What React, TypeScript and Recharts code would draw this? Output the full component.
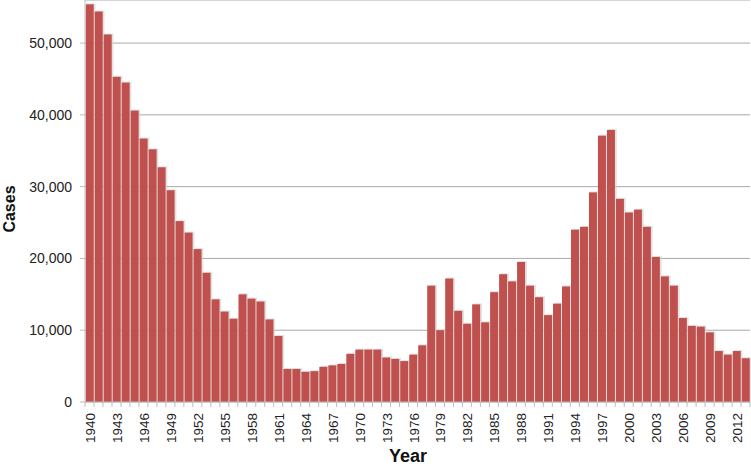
import { BarChart, Bar, XAxis, YAxis, CartesianGrid } from 'recharts';

// Annual reported cases, 1940-2013
const years = [
  '1940', '1941', '1942', '1943', '1944', '1945', '1946', '1947', '1948', '1949',
  '1950', '1951', '1952', '1953', '1954', '1955', '1956', '1957', '1958', '1959',
  '1960', '1961', '1962', '1963', '1964', '1965', '1966', '1967', '1968', '1969',
  '1970', '1971', '1972', '1973', '1974', '1975', '1976', '1977', '1978', '1979',
  '1980', '1981', '1982', '1983', '1984', '1985', '1986', '1987', '1988', '1989',
  '1990', '1991', '1992', '1993', '1994', '1995', '1996', '1997', '1998', '1999',
  '2000', '2001', '2002', '2003', '2004', '2005', '2006', '2007', '2008', '2009',
  '2010', '2011', '2012', '2013',
];

const cases = [
  55400, 54400, 51200, 45300, 44500, 40600, 36700, 35200, 32700, 29500,
  25200, 23600, 21300, 18000, 14300, 12600, 11600, 15000, 14400, 14000,
  11500, 9200, 4600, 4600, 4200, 4300, 4900, 5100, 5300, 6700,
  7300, 7300, 7300, 6200, 6000, 5700, 6600, 7900, 16200, 10000,
  17200, 12700, 10900, 13600, 11100, 15300, 17800, 16800, 19500, 16200,
  14600, 12100, 13700, 16100, 24000, 24400, 29200, 37100, 37900, 28300,
  26400, 26800, 24400, 20200, 17500, 16200, 11700, 10600, 10500, 9700,
  7100, 6600, 7100, 6100,
];

const yTicks = [0, 10000, 20000, 30000, 40000, 50000];

const data = years.map((year, i) => ({ year, cases: cases[i] }));

const FONT = '"Liberation Sans", Arial, sans-serif';
const AXIS_GRAY = '#bdbdbd';

const ShadowBar = (props: any) => {
  const { x, y, width, height, fill } = props;
  if (!height || height <= 0) return null;
  return (
    <g>
      <rect x={x + 1.2} y={y - 1} width={width + 0.6} height={height + 1} fill="#d6d6d6" opacity={0.7} />
      <rect x={x} y={y} width={width} height={height} fill={fill} />
    </g>
  );
};

const XTick = (props: any) => {
  const { x, y, payload, index } = props;
  const half = payload?.offset ?? 4.5;
  return (
    <g>
      <line x1={x - half} x2={x - half} y1={y} y2={y + 5} stroke={AXIS_GRAY} />
      {index === years.length - 1 && (
        <line x1={x + half} x2={x + half} y1={y} y2={y + 5} stroke={AXIS_GRAY} />
      )}
      {index % 3 === 0 && (
        <text
          transform={`translate(${x + 1},${y + 11}) rotate(-90)`}
          textAnchor="end"
          dominantBaseline="central"
          fontSize={13.5}
          fontFamily={FONT}
          fill="#222"
        >
          {payload.value}
        </text>
      )}
    </g>
  );
};

export default function App() {
  return (
    <div style={{ position: 'absolute', left: 0, top: 0, background: '#fff' }}>
      <BarChart
        width={751}
        height={468}
        data={data}
        margin={{ top: 0, right: 1, bottom: 0, left: 0 }}
        barCategoryGap="8%"
      >
        <CartesianGrid vertical={false} stroke="#a9a9a9" />
        <XAxis
          dataKey="year"
          interval={0}
          height={66}
          tickLine={false}
          tickSize={0}
          tickMargin={0}
          axisLine={{ stroke: AXIS_GRAY }}
          tick={<XTick />}
          label={{
            content: () => (
              <text x={408} y={462} textAnchor="middle" fontSize={18} fontWeight="bold" fontFamily={FONT} fill="#111">
                Year
              </text>
            ),
          }}
        />
        <YAxis
          width={85}
          domain={[0, 56000]}
          ticks={yTicks}
          tickSize={5}
          tickMargin={8}
          tickLine={{ stroke: AXIS_GRAY }}
          axisLine={{ stroke: AXIS_GRAY }}
          tick={{ fontSize: 14, fontFamily: FONT, fill: '#222' }}
          tickFormatter={(v: number) => v.toLocaleString('en-US')}
          label={{
            content: () => (
              <text
                x={9}
                y={209}
                transform="rotate(-90 9 209)"
                textAnchor="middle"
                dominantBaseline="central"
                fontSize={16}
                fontWeight="bold"
                fontFamily={FONT}
                fill="#111"
              >
                Cases
              </text>
            ),
          }}
        />
        <Bar dataKey="cases" fill="#c0504d" shape={<ShadowBar />} isAnimationActive={false} />
      </BarChart>
    </div>
  );
}
